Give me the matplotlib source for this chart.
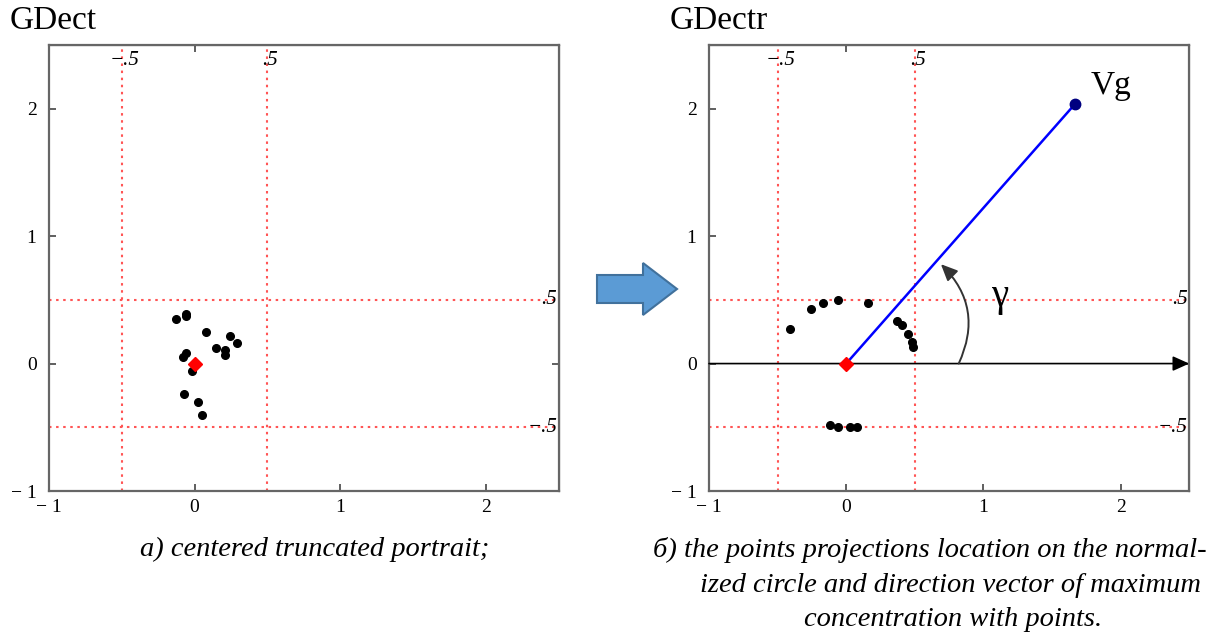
import numpy as np
import matplotlib.pyplot as plt
from matplotlib.patches import FancyArrow

plt.rcParams['font.family'] = ['Liberation Serif', 'DejaVu Serif']

# left panel: centered truncated portrait
pts_a_x = [-0.13, -0.06, -0.06, 0.075, 0.24, 0.29, 0.15, 0.21, 0.21,
           -0.06, -0.08, -0.02, -0.07, 0.02, 0.05]
pts_a_y = [0.35, 0.39, 0.37, 0.25, 0.22, 0.16, 0.12, 0.11, 0.07,
           0.08, 0.05, -0.055, -0.24, -0.30, -0.40]

# right panel: projections on the normalized circle
pts_b_x = [-0.41, -0.26, -0.17, -0.06, 0.16, 0.37, 0.41, 0.45, 0.48, 0.49,
           -0.12, -0.06, 0.03, 0.08]
pts_b_y = [0.27, 0.425, 0.475, 0.50, 0.475, 0.336, 0.30, 0.23, 0.17, 0.13,
           -0.48, -0.50, -0.50, -0.50]

vg = (1.67, 2.04)
ticks = [-1, 0, 1, 2]
tick_labels = ['\u2212 1', '0', '1', '2']
grid_vals = [-0.5, 0.5]
grid_labels = ['\u2212.5', '.5']

fig = plt.figure(figsize=(12.25, 6.39), dpi=100)
ax1 = fig.add_axes([0.040, 0.2316, 0.416, 0.698])
ax2 = fig.add_axes([0.5788, 0.2316, 0.392, 0.698])


def setup(ax, title):
    ax.set_xlim(-1, 2.5)
    ax.set_ylim(-1, 2.5)
    ax.set_xticks(ticks, tick_labels)
    ax.set_yticks(ticks, tick_labels)
    ax.tick_params(direction='in', length=5, width=1.2, color='#444444',
                   labelsize=14, pad=9)
    ax.tick_params(axis='x', pad=6)
    for s in ax.spines.values():
        s.set_color('#666666')
        s.set_linewidth(1.6)
    top = ax.secondary_xaxis('top')
    top.set_xticks([0], [''])
    top.tick_params(direction='in', length=5, width=1.2, color='#444444')
    right = ax.secondary_yaxis('right')
    right.set_yticks([0], [''])
    right.tick_params(direction='in', length=5, width=1.2, color='#444444')
    for v, lab in zip(grid_vals, grid_labels):
        ax.axvline(v, color='#ff5555', ls=(0, (1.2, 2.2)), lw=1.5)
        ax.axhline(v, color='#ff5555', ls=(0, (1.2, 2.2)), lw=1.5)
        ax.text(v + 0.02, 2.38, lab, ha='center', va='center', fontsize=15,
                style='italic')
        ax.text(2.49, v, lab, ha='right', va='center', fontsize=15,
                style='italic')
    fig.text(ax.get_position().x0 - 0.032, 0.968, title, fontsize=24,
             ha='left', va='center')


setup(ax1, 'GDect')
setup(ax2, 'GDectr')

ax1.plot(pts_a_x, pts_a_y, 'o', color='black', ms=5.5, zorder=4)
ax1.plot([0], [0], 'D', color='red', ms=7, zorder=5)

ax2.annotate('', xy=(2.5, 0), xytext=(-1, 0),
             arrowprops=dict(arrowstyle='-|>,head_length=1.0,head_width=0.45',
                             color='black', lw=1.2, shrinkA=0, shrinkB=0))
ax2.plot([0, vg[0]], [0, vg[1]], color='blue', lw=1.8, zorder=3)
ax2.plot([vg[0]], [vg[1]], 'o', color='#000080', ms=7.5, zorder=4)
ax2.plot(pts_b_x, pts_b_y, 'o', color='black', ms=5.5, zorder=4)
ax2.plot([0], [0], 'D', color='red', ms=7, zorder=5)
ax2.annotate('', xy=(0.69, 0.78), xytext=(0.82, 0),
             arrowprops=dict(arrowstyle='-|>,head_length=1.0,head_width=0.45',
                             color='#333333', lw=1.4, shrinkA=0, shrinkB=0,
                             connectionstyle='arc3,rad=0.35'))
ax2.text(1.12, 0.53, '\u03b3', fontsize=28, ha='center', va='center')
ax2.text(1.78, 2.18, 'Vg', fontsize=24, ha='left', va='center')

# block arrow between panels
fig.patches.append(FancyArrow(597 / 1225, 1 - 289 / 639, 80 / 1225, 0,
                              width=28 / 639, head_width=52 / 639,
                              head_length=34 / 1225, length_includes_head=True,
                              transform=fig.transFigure, facecolor='#5b9bd5',
                              edgecolor='#41719c', lw=1.5))

cap = dict(fontsize=20.5, style='italic', ha='center', va='center')
fig.text(315 / 1225, 1 - 549 / 639, 'a) centered truncated portrait;', **cap)
fig.text(930 / 1225, 1 - 550 / 639,
         '\u0431) the points projections location on the normal-', **cap)
fig.text(951 / 1225, 1 - 585 / 639,
         'ized circle and direction vector of maximum', **cap)
fig.text(953 / 1225, 1 - 619 / 639, 'concentration with points.', **cap)

fig.savefig('out.png', dpi=100)
